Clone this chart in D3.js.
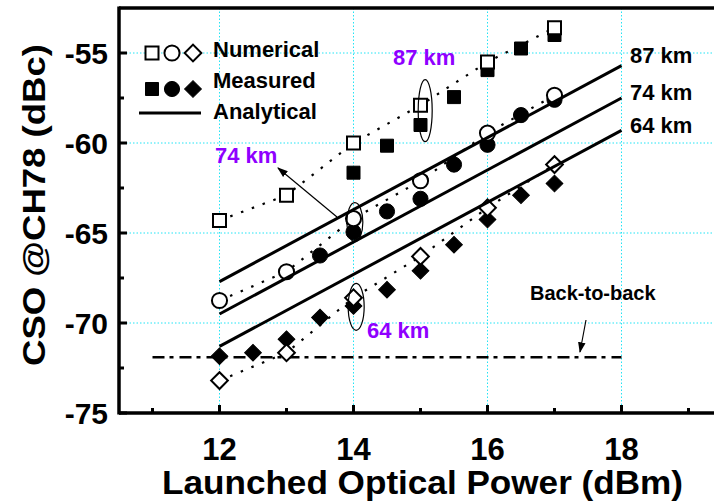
<!DOCTYPE html>
<html lang="en">
<head>
<meta charset="UTF-8">
<title>CSO vs launched optical power</title>
<script src="https://d3js.org/d3.v7.min.js"></script>
<style>
    body { margin: 0; background: #fff; }
    svg text { font-family: "Liberation Sans", Arial, sans-serif; font-weight: bold; }
</style>
</head>
<body>
<svg width="714" height="504"></svg>
<script>
    // numerical (open markers), x = 12..17 dBm
    const power = [12, 13, 14, 15, 16, 17];
    const num87 = [-64.3, -62.9, -60.0, -57.9, -55.5, -53.6];
    const num74 = [-68.75, -67.15, -64.2, -62.1, -59.45, -57.35];
    const num64 = [-73.2, -71.65, -68.6, -66.3, -63.6, -61.2];

    // measured (filled markers)
    const measPower87 = [14, 14.5, 15, 15.5, 16, 16.5, 17];
    const meas87 = [-61.65, -60.15, -59.0, -57.45, -55.95, -54.75, -54.0];
    const measPower74 = [13.5, 14, 14.5, 15, 15.5, 16, 16.5, 17];
    const meas74 = [-66.25, -64.95, -63.8, -63.1, -61.2, -60.1, -58.45, -57.6];
    const measPower64 = [12, 12.5, 13, 13.5, 14, 14.5, 15, 15.5, 16, 16.5, 17];
    const meas64 = [-71.85, -71.65, -70.9, -69.7, -69.05, -68.15, -67.1, -65.65, -64.25, -62.9, -62.25];

    // analytical lines, from 12 to 18 dBm
    const anaPower = [12, 18];
    const ana87 = [-67.7, -55.7];
    const ana74 = [-69.5, -57.5];
    const ana64 = [-71.3, -59.3];

    const b2bPower = [11, 18];
    const b2bLevel = -71.9;

    const xTicks = [12, 14, 16, 18];
    const xMinor = [11, 13, 15, 17, 19];
    const yTicks = [-55, -60, -65, -70, -75];
    const yMinor = [-57.5, -62.5, -67.5, -72.5];

    const purple = "#8f00ff";
    const grid = "#22e4f5";

    const svg = d3.select("svg");

    const x = d3.scaleLinear().domain([10.5, 19.5]).range([119, 722]);
    const y = d3.scaleLinear().domain([-75, -52.5]).range([413, 8]);
    const plotTop = y.range()[1], plotBottom = y.range()[0], plotLeft = x.range()[0];

    // grid
    svg.selectAll(".gx").data(xTicks).enter().append("line")
        .attr("x1", d => x(d)).attr("x2", d => x(d))
        .attr("y1", plotTop).attr("y2", plotBottom)
        .attr("stroke", grid).attr("stroke-width", 1).attr("stroke-dasharray", "1.5,2");
    svg.selectAll(".gy").data(yTicks.slice(0, 4)).enter().append("line")
        .attr("x1", plotLeft).attr("x2", 714)
        .attr("y1", d => y(d)).attr("y2", d => y(d))
        .attr("stroke", grid).attr("stroke-width", 1).attr("stroke-dasharray", "1.5,2");

    // back-to-back
    svg.append("line")
        .attr("x1", x(b2bPower[0])).attr("x2", x(b2bPower[1]))
        .attr("y1", y(b2bLevel)).attr("y2", y(b2bLevel))
        .attr("stroke", "#000").attr("stroke-width", 2.5)
        .attr("stroke-dasharray", "12,5,4,6");

    // dotted lines through numerical points
    const line = d3.line().x(d => x(d[0])).y(d => y(d[1]));
    [num87, num74, num64].forEach(vals => {
        svg.append("path")
            .attr("d", line(power.map((p, i) => [p, vals[i]])))
            .attr("fill", "none").attr("stroke", "#000")
            .attr("stroke-width", 2.2).attr("stroke-dasharray", "2.5,9");
    });

    const shapes = {
        square: d3.symbol().type(d3.symbolSquare).size(169),
        circle: d3.symbol().type(d3.symbolCircle).size(180),
        diamond: d3.symbol().type(d3.symbolSquare).size(140)
    };

    function drawMarkers(xs, ys, shape, filled) {
        xs.forEach((p, i) => {
            const rot = shape === "diamond" ? " rotate(45)" : "";
            svg.append("path")
                .attr("d", shapes[shape]())
                .attr("transform", `translate(${x(p)},${y(ys[i])})${rot}`)
                .attr("fill", filled ? "#000" : "#fff")
                .attr("stroke", "#000")
                .attr("stroke-width", filled ? 1 : 2);
        });
    }

    drawMarkers(measPower87, meas87, "square", true);
    drawMarkers(measPower74, meas74, "circle", true);
    drawMarkers(measPower64, meas64, "diamond", true);
    drawMarkers(power, num87, "square", false);
    drawMarkers(power, num74, "circle", false);
    drawMarkers(power, num64, "diamond", false);

    // analytical lines
    [ana87, ana74, ana64].forEach(vals => {
        svg.append("path")
            .attr("d", line(anaPower.map((p, i) => [p, vals[i]])))
            .attr("fill", "none").attr("stroke", "#000").attr("stroke-width", 3);
    });

    // ellipses marking groups
    const ellipses = [
        { cx: 15.07, cy: -58.2, rx: 7, ry: 31 },
        { cx: 14.02, cy: -64.4, rx: 8, ry: 19.5 },
        { cx: 14.04, cy: -69.1, rx: 8, ry: 23.5 }
    ];
    svg.selectAll(".ell").data(ellipses).enter().append("ellipse")
        .attr("cx", d => x(d.cx)).attr("cy", d => y(d.cy))
        .attr("rx", d => d.rx).attr("ry", d => d.ry)
        .attr("fill", "none").attr("stroke", "#000").attr("stroke-width", 1.2);

    // arrows
    svg.append("defs").append("marker")
        .attr("id", "arr").attr("viewBox", "0 0 10 10")
        .attr("refX", 9).attr("refY", 5)
        .attr("markerWidth", 9).attr("markerHeight", 9)
        .attr("orient", "auto")
        .append("path").attr("d", "M0,1.5 L10,5 L0,8.5 Z").attr("fill", "#000");

    svg.append("line")
        .attr("x1", 337).attr("y1", 217).attr("x2", 278).attr("y2", 168)
        .attr("stroke", "#000").attr("stroke-width", 1.2).attr("marker-end", "url(#arr)");
    svg.append("line")
        .attr("x1", 586).attr("y1", 320).attr("x2", 580).attr("y2", 352)
        .attr("stroke", "#000").attr("stroke-width", 1.2).attr("marker-end", "url(#arr)");

    // labels
    const labels = [
        { t: "87 km", x: 393, y: 65, c: purple },
        { t: "74 km", x: 215, y: 163, c: purple },
        { t: "64 km", x: 367, y: 338, c: purple },
        { t: "87 km", x: 630, y: 63, c: "#000" },
        { t: "74 km", x: 630, y: 100, c: "#000" },
        { t: "64 km", x: 630, y: 133, c: "#000" }
    ];
    svg.selectAll(".lbl").data(labels).enter().append("text")
        .attr("x", d => d.x).attr("y", d => d.y)
        .attr("fill", d => d.c).style("font-size", "22px").text(d => d.t);

    svg.append("text").attr("x", 530).attr("y", 300)
        .style("font-size", "20px").text("Back-to-back");

    // legend
    const lg = svg.append("g");
    [["square", 152], ["circle", 172], ["diamond", 193]].forEach(([s, lx]) => {
        const rot = s === "diamond" ? " rotate(45)" : "";
        lg.append("path").attr("d", shapes[s]())
            .attr("transform", `translate(${lx},53)${rot}`)
            .attr("fill", "#fff").attr("stroke", "#000").attr("stroke-width", 2);
        lg.append("path").attr("d", shapes[s]())
            .attr("transform", `translate(${lx},89)${rot}`)
            .attr("fill", "#000").attr("stroke", "#000");
    });
    lg.append("line").attr("x1", 139).attr("x2", 201).attr("y1", 113).attr("y2", 113)
        .attr("stroke", "#000").attr("stroke-width", 3);
    [["Numerical", 57], ["Measured", 88], ["Analytical", 119]].forEach(([t, ly]) => {
        lg.append("text").attr("x", 213).attr("y", ly).style("font-size", "22px").text(t);
    });

    // axes frame
    svg.append("line").attr("x1", plotLeft).attr("x2", 714).attr("y1", plotTop).attr("y2", plotTop)
        .attr("stroke", "#000").attr("stroke-width", 3.5);
    svg.append("line").attr("x1", plotLeft).attr("x2", 714).attr("y1", plotBottom).attr("y2", plotBottom)
        .attr("stroke", "#000").attr("stroke-width", 3.5);
    svg.append("line").attr("x1", plotLeft).attr("x2", plotLeft).attr("y1", plotTop - 1.5).attr("y2", plotBottom + 1.5)
        .attr("stroke", "#000").attr("stroke-width", 3.5);

    // ticks (inside)
    svg.selectAll(".xt").data(xTicks.concat(xMinor)).enter().append("line")
        .attr("x1", d => x(d)).attr("x2", d => x(d))
        .attr("y1", plotBottom).attr("y2", d => plotBottom - (xTicks.includes(d) ? 8 : 5))
        .attr("stroke", "#000").attr("stroke-width", 3);
    svg.selectAll(".yt").data(yTicks.concat(yMinor)).enter().append("line")
        .attr("x1", plotLeft).attr("x2", d => plotLeft + (yTicks.includes(d) ? 8 : 5))
        .attr("y1", d => y(d)).attr("y2", d => y(d))
        .attr("stroke", "#000").attr("stroke-width", 3);

    // tick labels
    svg.selectAll(".xl").data(xTicks).enter().append("text")
        .attr("x", d => x(d)).attr("y", 460)
        .attr("text-anchor", "middle").style("font-size", "31px").text(d => d);
    svg.selectAll(".yl").data(yTicks).enter().append("text")
        .attr("x", 108).attr("y", d => y(d) + 10.5)
        .attr("text-anchor", "end").style("font-size", "30px").text(d => d);

    // axis titles
    svg.append("text").attr("x", 162).attr("y", 494)
        .attr("textLength", 521).attr("lengthAdjust", "spacingAndGlyphs")
        .style("font-size", "33px").text("Launched Optical Power (dBm)");
    svg.append("text")
        .attr("transform", "translate(45,205) rotate(-90)")
        .attr("text-anchor", "middle")
        .attr("textLength", 322).attr("lengthAdjust", "spacingAndGlyphs")
        .style("font-size", "32px").text("CSO @CH78 (dBc)");
</script>
</body>
</html>
